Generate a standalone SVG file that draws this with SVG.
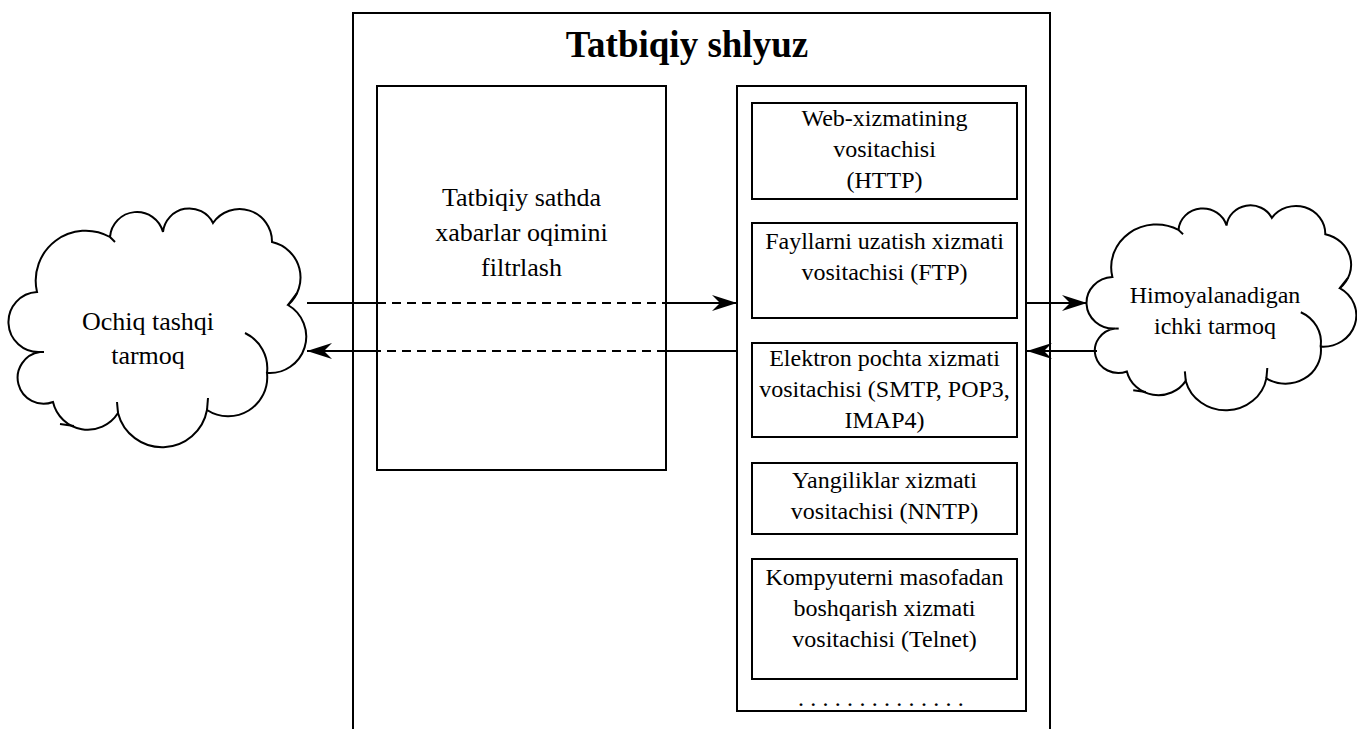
<svg xmlns="http://www.w3.org/2000/svg" xmlns:xlink="http://www.w3.org/1999/xlink" width="1357" height="729" viewBox="0 0 1357 729">
<style>
  .box { fill: #fff; stroke: #000; stroke-width: 2; }
  .txt { font-family: "Liberation Serif", "Times New Roman", serif; fill: #000; text-anchor: middle; }
  .t24 { font-size: 24px; }
  .t26 { font-size: 26px; }
  .title { font-size: 37px; font-weight: bold; }
  .ln { fill: none; stroke: #000; stroke-width: 2; }
  .dash { stroke-dasharray: 9 6; }
  .cl { fill: #fff; stroke: #000; stroke-width: 2; vector-effect: non-scaling-stroke; }
  .cs { fill: none; stroke: #000; stroke-width: 2; vector-effect: non-scaling-stroke; }
</style>
<defs>
  <marker id="arr" markerUnits="userSpaceOnUse" markerWidth="26" markerHeight="18" refX="25" refY="8" orient="auto" viewBox="0 0 26 18">
    <path d="M0,0 L25,8 L0,16 L8,8 Z" fill="#000"/>
  </marker>
  <g id="cloudShape">
    <path class="cl" d="M37,292 A50,50 0 0 1 110,237 A27,27 0 0 1 163,232 A26.5,26.5 0 0 1 213,223 A32.4,32.4 0 0 1 272,242 A36.4,36.4 0 0 1 288,305 A36.5,36.5 0 0 1 267,373 A39,39 0 0 1 207,410 A45.6,45.6 0 0 1 118,413 A35.7,35.7 0 0 1 53,402 A26,26 0 1 1 40,352 A30,30 0 0 1 37,292 Z"/>
    <path class="cs" d="M245,333 A39,39 0 0 1 267,373"/>
    <path class="cs" d="M207,410 L208,398"/>
    <path class="cs" d="M118,413 L117,402"/>
    <path class="cs" d="M110,237 L115,242"/>
    <path class="cs" d="M40,352 L44,352"/>
    <path class="cs" d="M288,305 L297,293"/>
    <path class="cs" d="M60,424 L74,426"/>
  </g>
</defs>

<g id="gateway">
  <rect class="box" x="353" y="13" width="697" height="730"/>
  <text class="txt title" x="687" y="57">Tatbiqiy shlyuz</text>
</g>

<g id="filter">
  <rect class="box" x="377" y="86" width="289" height="384"/>
  <text class="txt t26" x="521.5" y="206">Tatbiqiy sathda</text>
  <text class="txt t26" x="521.5" y="241">xabarlar oqimini</text>
  <text class="txt t26" x="521.5" y="276">filtrlash</text>
</g>

<g id="proxies">
  <rect class="box" x="737" y="86" width="289" height="625"/>
  <text class="txt t24" x="884" y="706" letter-spacing="6.3">..............</text>
</g>

<g id="http">
  <rect class="box" x="752" y="103" width="265" height="96"/>
  <text class="txt t24" x="884.5" y="126">Web-xizmatining</text>
  <text class="txt t24" x="884.5" y="157">vositachisi</text>
  <text class="txt t24" x="884.5" y="188">(HTTP)</text>
</g>

<g id="ftp">
  <rect class="box" x="752" y="223" width="265" height="95"/>
  <text class="txt t24" x="884.5" y="249">Fayllarni uzatish xizmati</text>
  <text class="txt t24" x="884.5" y="280">vositachisi (FTP)</text>
</g>

<g id="mail">
  <rect class="box" x="752" y="343" width="265" height="94"/>
  <text class="txt t24" x="884.5" y="366">Elektron pochta xizmati</text>
  <text class="txt t24" x="884.5" y="397">vositachisi (SMTP, POP3,</text>
  <text class="txt t24" x="884.5" y="428">IMAP4)</text>
</g>

<g id="nntp">
  <rect class="box" x="752" y="463" width="265" height="71"/>
  <text class="txt t24" x="884.5" y="488">Yangiliklar xizmati</text>
  <text class="txt t24" x="884.5" y="519">vositachisi (NNTP)</text>
</g>

<g id="telnet">
  <rect class="box" x="752" y="559" width="265" height="120"/>
  <text class="txt t24" x="884.5" y="585">Kompyuterni masofadan</text>
  <text class="txt t24" x="884.5" y="616">boshqarish xizmati</text>
  <text class="txt t24" x="884.5" y="647">vositachisi (Telnet)</text>
</g>

<g id="external">
  <use xlink:href="#cloudShape" href="#cloudShape"/>
  <text class="txt t26" x="148" y="330">Ochiq tashqi</text>
  <text class="txt t26" x="148" y="364">tarmoq</text>
</g>

<g id="internal">
  <use xlink:href="#cloudShape" href="#cloudShape" transform="translate(1078.85,26.54) scale(0.906,0.858)"/>
  <text class="txt t24" x="1215" y="303">Himoyalanadigan</text>
  <text class="txt t24" x="1215" y="334">ichki tarmoq</text>
</g>

<g id="connectors">
  <path class="ln" d="M307,303 H377"/>
  <path class="ln dash" d="M377,303 H666"/>
  <path class="ln" d="M666,303 H737" marker-end="url(#arr)"/>
  <path class="ln" d="M737,351 H666"/>
  <path class="ln dash" d="M666,351 H377"/>
  <path class="ln" d="M377,351 H307" marker-end="url(#arr)"/>
  <path class="ln" d="M1026,303 H1087" marker-end="url(#arr)"/>
  <path class="ln" d="M1097,351 H1027" marker-end="url(#arr)"/>
</g>
</svg>
